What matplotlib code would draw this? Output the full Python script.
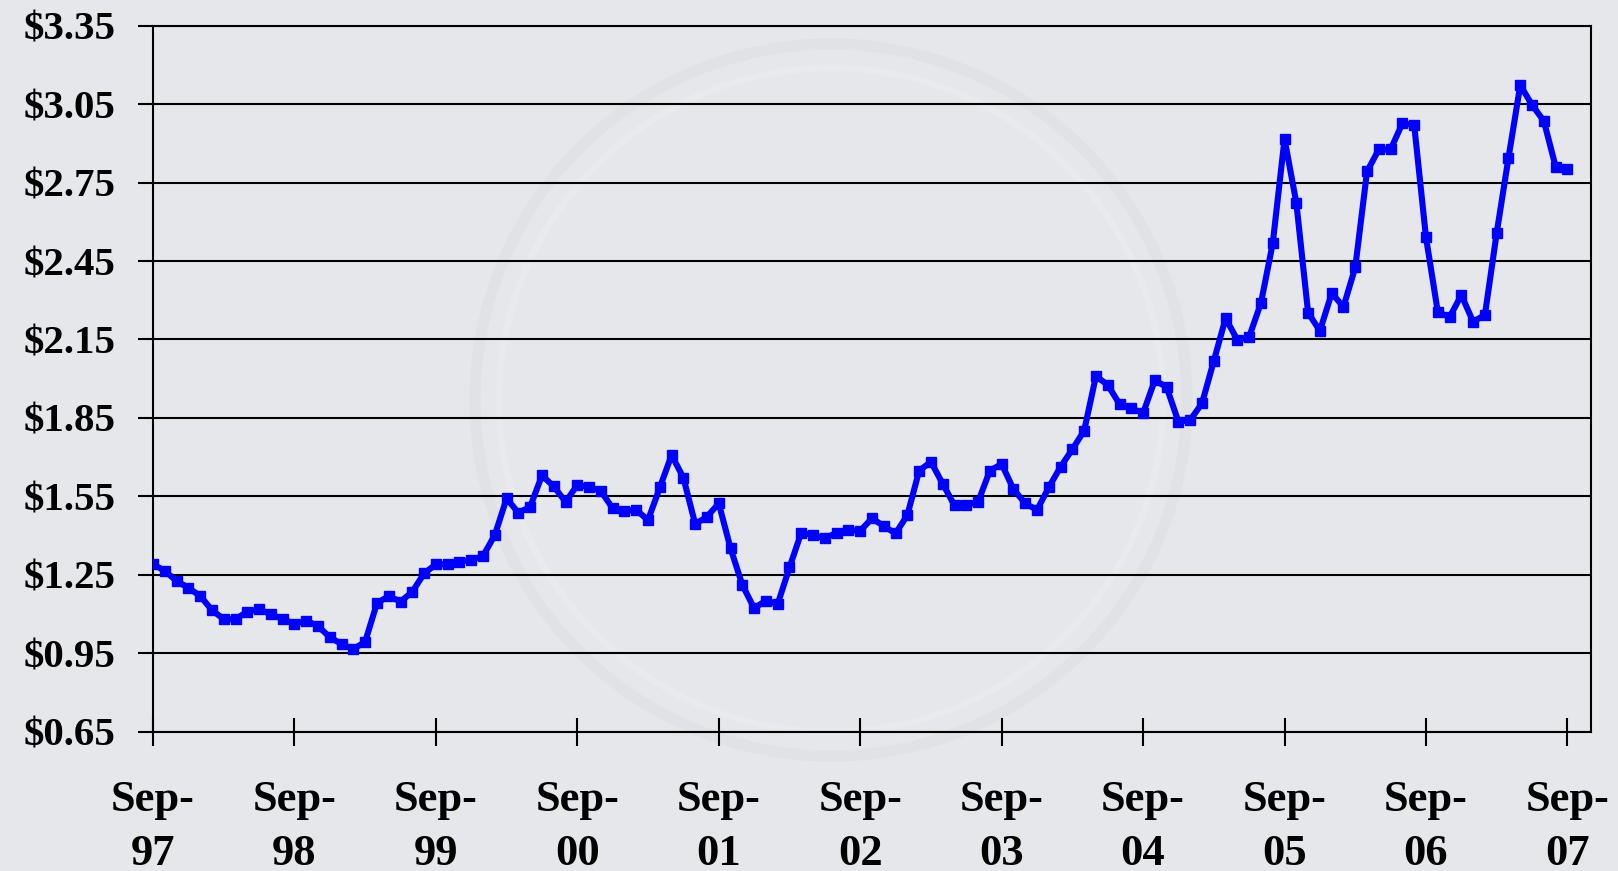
import numpy as np
import matplotlib
matplotlib.use("Agg")
import matplotlib.pyplot as plt
from matplotlib.patches import Ellipse

# monthly average price, Sep-97 through Sep-07
prices = [
    1.29, 1.265, 1.226, 1.20, 1.169, 1.115, 1.08, 1.08, 1.109, 1.118, 1.099, 1.08,
    1.062, 1.074, 1.054, 1.011, 0.985, 0.965, 0.994, 1.141, 1.169, 1.147, 1.185, 1.255,
    1.29, 1.29, 1.30, 1.306, 1.322, 1.402, 1.542, 1.487, 1.51, 1.63, 1.588, 1.529,
    1.593, 1.587, 1.57, 1.504, 1.495, 1.498, 1.459, 1.584, 1.708, 1.621, 1.444, 1.472,
    1.523, 1.351, 1.211, 1.122, 1.151, 1.138, 1.278, 1.411, 1.402, 1.389, 1.411, 1.421,
    1.418, 1.466, 1.436, 1.408, 1.478, 1.648, 1.682, 1.598, 1.515, 1.517, 1.529, 1.648,
    1.674, 1.577, 1.523, 1.498, 1.584, 1.663, 1.73, 1.801, 2.01, 1.976, 1.903, 1.887,
    1.868, 1.995, 1.967, 1.835, 1.842, 1.906, 2.068, 2.231, 2.148, 2.16, 2.29, 2.518,
    2.917, 2.673, 2.252, 2.183, 2.327, 2.275, 2.426, 2.793, 2.877, 2.877, 2.977, 2.97,
    2.541, 2.256, 2.235, 2.32, 2.218, 2.244, 2.558, 2.845, 3.123, 3.047, 2.986, 2.811,
    2.801,
]
year_labels = ["Sep-\n97", "Sep-\n98", "Sep-\n99", "Sep-\n00", "Sep-\n01", "Sep-\n02",
               "Sep-\n03", "Sep-\n04", "Sep-\n05", "Sep-\n06", "Sep-\n07"]
y_ticks = [0.65, 0.95, 1.25, 1.55, 1.85, 2.15, 2.45, 2.75, 3.05, 3.35]

bg = "#e6e7ea"
W, H = 1618, 871
fig = plt.figure(figsize=(W / 100, H / 100), dpi=100, facecolor=bg)
ax = fig.add_axes([153 / W, 1 - 731.6 / H, (1591 - 153) / W, (731.6 - 25.8) / H])
ax.set_facecolor("none")

# faint logo ring behind the plot
for r, col, lw in [(356, "#e1e2e5", 8), (332, "#e9eaed", 5)]:
    fig.add_artist(Ellipse((831 / W, 1 - 400 / H), 2 * r / W, 2 * r / H,
                           transform=fig.transFigure, fill=False,
                           edgecolor=col, lw=lw, zorder=-5))

months = np.arange(len(prices))
ax.plot(months, prices, color="#0000ff", lw=4.4, marker="s", ms=6.5,
        mec="#0000ff", mfc="#0000ff", zorder=3, solid_joinstyle="round")

ax.set_xlim(0, 122)
ax.set_ylim(0.65, 3.35)
ax.set_yticks(y_ticks)
ax.set_yticklabels(["${:.2f}".format(v) for v in y_ticks])
ax.set_xticks(np.arange(0, 121, 12))
ax.set_xticklabels(year_labels)

ax.yaxis.grid(True, color="black", lw=1.5)
ax.set_axisbelow(True)
for s in ax.spines.values():
    s.set_color("black")
    s.set_linewidth(1.5)

ax.tick_params(axis="y", direction="out", length=11, width=1.5, pad=16)
ax.tick_params(axis="x", direction="inout", length=20, width=1.5, pad=25)
for lab in ax.get_yticklabels():
    lab.set_fontfamily("Liberation Serif")
    lab.set_fontweight("bold")
    lab.set_fontsize(29.5)
for lab in ax.get_xticklabels():
    lab.set_fontfamily("Liberation Serif")
    lab.set_fontweight("bold")
    lab.set_fontsize(32)
    lab.set_linespacing(1.45)

fig.savefig("out.png", dpi=100, facecolor=bg)
